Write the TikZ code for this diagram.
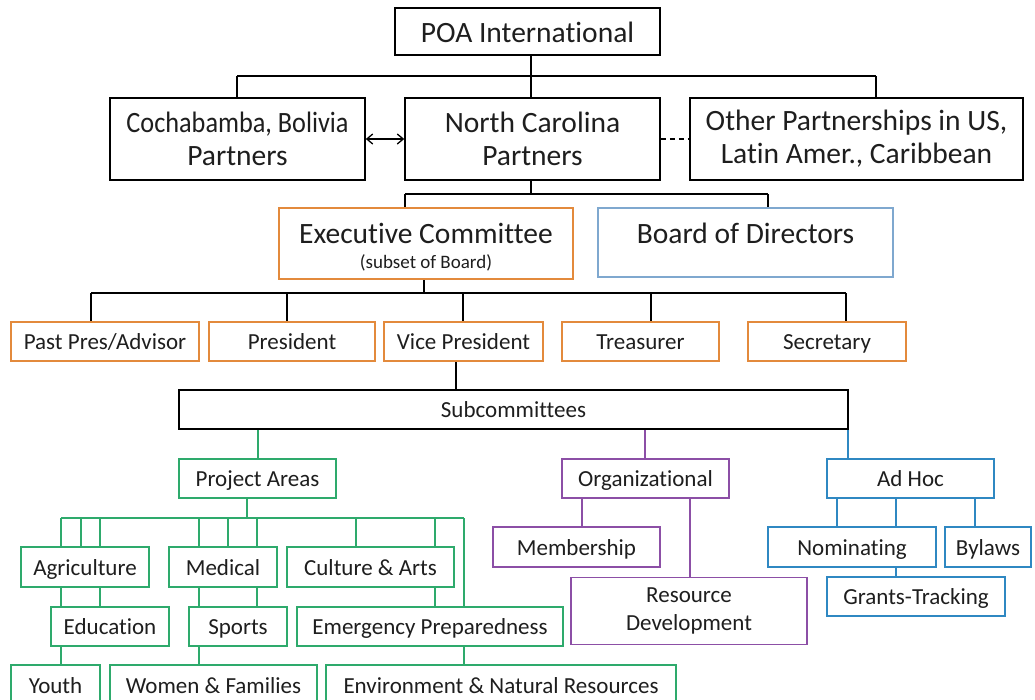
\documentclass[tikz,border=0pt]{standalone}
\usepackage{fontspec}
\setmainfont{Carlito}[Ligatures=NoCommon, RawFeature={-liga;-clig;-calt}]
\usetikzlibrary{arrows.meta,backgrounds}
\newcommand\myti{t\kern0pt i}
\definecolor{txt}{HTML}{1E1E1E}
\definecolor{orgc}{HTML}{E38A3C}
\definecolor{boardc}{HTML}{7FA8CF}
\definecolor{grc}{HTML}{2EAA6C}
\definecolor{puc}{HTML}{8C4FA6}
\definecolor{blc}{HTML}{2F88C2}
\tikzset{
  base/.style={draw=black, line width=1.5pt, fill=white, inner sep=0pt, align=center, text=txt},
  bx/.style={base, font=\fontsize{23}{28}\selectfont, text height=20pt, text depth=3.5pt},
  mbx/.style={base, font=\fontsize{23}{28}\selectfont},
  bigbx/.style={base, font=\fontsize{29.5}{33}\selectfont},
  lbl/.style={inner sep=0pt, text=txt, anchor=base},
  obx/.style={bx, draw=orgc},
  gbx/.style={bx, draw=grc},
  pbx/.style={bx, draw=puc},
  blbx/.style={bx, draw=blc},
  kl/.style={line width=1.3pt, draw=black},
  gl/.style={line width=1.3pt, draw=grc},
  pl/.style={line width=1.3pt, draw=puc},
  bl/.style={line width=1.3pt, draw=blc},
}
\begin{document}
\begin{tikzpicture}[x=1pt,y=-1pt]
\clip (0,0) rectangle (1035,699);
% top
\node[bigbx, minimum width=265pt, minimum height=47pt, text height=26pt, text depth=4pt] (poa) at (527.5,31.5) {POA Interna\myti onal};
\node[bigbx, minimum width=255pt, minimum height=82pt] (coch) at (237.5,139) {\scalebox{0.89}[1]{Cochabamba, Bolivia}\\Partners};
\node[bigbx, minimum width=255pt, minimum height=82pt] (nc) at (532.5,139) {North Carolina\\Partners};
\node[bigbx, minimum width=333pt, minimum height=82pt] (other) at (856.5,139) {Other Partnerships in US,\\La\myti n Amer., Caribbean};
% exec / board
\node[base, draw=orgc, minimum width=294pt, minimum height=71pt] (exec) at (426,243.5) {};
\node[lbl, font=\fontsize{29.5}{33}\selectfont] (execT) at (426,243.5) {Execu\myti ve Committee};
\node[lbl, font=\fontsize{19}{22}\selectfont] (execS) at (426,268) {(subset of Board)};
\node[base, draw=boardc, minimum width=295pt, minimum height=69pt] (board) at (745.5,242.5) {};
\node[lbl, font=\fontsize{29.5}{33}\selectfont] (boardT) at (745.5,243.5) {Board of Directors};
% officers
\node[obx, minimum width=188pt, minimum height=39pt] (past) at (105,341.5) {Past Pres/Advisor};
\node[obx, minimum width=166pt, minimum height=39pt] (pres) at (292,341.5) {President};
\node[obx, minimum width=159pt, minimum height=39pt] (vp) at (463.5,341.5) {Vice President};
\node[obx, minimum width=157pt, minimum height=39pt] (treas) at (640.5,341.5) {Treasurer};
\node[obx, minimum width=158pt, minimum height=39pt] (sec) at (827,341.5) {Secretary};
% subcommittees
\node[bx, minimum width=669pt, minimum height=39pt] (sub) at (513.5,409.5) {Subcommittees};
\node[gbx, minimum width=157pt, minimum height=39pt] (pa) at (257.5,478.5) {Project Areas};
\node[pbx, minimum width=167pt, minimum height=39pt] (org) at (645.5,478.5) {Organiza\myti onal};
\node[blbx, minimum width=167pt, minimum height=39pt] (adhoc) at (910.5,478.5) {Ad Hoc};
% project areas
\node[gbx, minimum width=128pt, minimum height=40pt] (agri) at (85,567) {Agriculture};
\node[gbx, minimum width=108pt, minimum height=40pt] (med) at (223,567) {Medical};
\node[gbx, minimum width=167pt, minimum height=40pt] (cult) at (370.5,567) {Culture \& Arts};
\node[gbx, minimum width=118pt, minimum height=39pt] (edu) at (110,626.5) {Educa\myti on};
\node[gbx, minimum width=98pt, minimum height=39pt] (sports) at (238,626.5) {Sports};
\node[gbx, minimum width=266pt, minimum height=39pt] (emerg) at (430,626.5) {Emergency Preparedness};
\node[gbx, minimum width=89pt, minimum height=40pt] (youth) at (55.5,685) {Youth};
\node[gbx, minimum width=207pt, minimum height=40pt] (wf) at (213.5,685) {Women \& Families};
\node[gbx, minimum width=350pt, minimum height=40pt] (env) at (501,685) {Environment \& Natural Resources};
% organizational
\node[pbx, minimum width=167pt, minimum height=40pt] (memb) at (576.5,547) {Membership};
\node[mbx, draw=puc, minimum width=236pt, minimum height=67pt] (resdev) at (689,611) {Resource\\Development};
% ad hoc
\node[blbx, minimum width=168pt, minimum height=40pt] (nom) at (852,547) {Nomina\myti ng};
\node[blbx, minimum width=86pt, minimum height=40pt] (bylaws) at (988,547) {Bylaws};
\node[blbx, minimum width=178pt, minimum height=39pt] (grants) at (916,596.5) {Grants-Tracking};

\begin{scope}[on background layer]
\fill[white] (0,0) rectangle (1035,699);
\coordinate (b1) at (0,76);
\coordinate (b2) at (0,194);
\coordinate (b3) at (0,293);
\coordinate (gb) at (0,518);
% top
\draw[kl] (poa.south -| 531,0) -- (b1 -| 531,0);
\draw[kl] (b1 -| 237,0) -- (b1 -| 876,0);
\draw[kl] (b1 -| 237,0) -- (coch.north -| 237,0);
\draw[kl] (b1 -| 531,0) -- (nc.north -| 531,0);
\draw[kl] (b1 -| 876,0) -- (other.north -| 876,0);
% nc to exec/board
\draw[kl] (nc.south -| 531,0) -- (b2 -| 531,0);
\draw[kl] (b2 -| 405,0) -- (b2 -| 768,0);
\draw[kl] (b2 -| 405,0) -- (exec.north -| 405,0);
\draw[kl] (b2 -| 768,0) -- (board.north -| 768,0);
% exec to officers
\draw[kl] (exec.south -| 424,0) -- (b3 -| 424,0);
\draw[kl] (b3 -| 91,0) -- (b3 -| 846,0);
\foreach \x/\n in {91/past,287/pres,463/vp,651/treas,846/sec}
  \draw[kl] (b3 -| \x,0) -- (\n.north -| \x,0);
\draw[kl] (vp.south -| 456,0) -- (sub.north -| 456,0);
% subcommittees
\draw[gl] (sub.south -| 258,0) -- (pa.north -| 258,0);
\draw[pl] (sub.south -| 645,0) -- (org.north -| 645,0);
\draw[bl] (sub.south -| 848,0) -- (adhoc.north -| 848,0);
% project areas
\draw[gl] (pa.south -| 247,0) -- (gb -| 247,0);
\draw[gl] (gb -| 61,0) -- (gb -| 464,0);
\foreach \x/\n in {61/youth,81/agri,100/edu,199/wf,228/med,257/sports,356/cult,435/emerg,464/env}
  \draw[gl] (gb -| \x,0) -- (\n.north -| \x,0);
% organizational
\draw[pl] (org.south -| 582,0) -- (memb.north -| 582,0);
\draw[pl] (org.south -| 690,0) -- (resdev.north -| 690,0);
% ad hoc
\draw[bl] (adhoc.south -| 837,0) -- (nom.north -| 837,0);
\draw[bl] (adhoc.south -| 896,0) -- (grants.north -| 896,0);
\draw[bl] (adhoc.south -| 975,0) -- (bylaws.north -| 975,0);
\end{scope}
% partner links
\draw[line width=1.3pt, {Straight Barb[length=6pt,width=10pt]}-{Straight Barb[length=6pt,width=10pt]}] (coch.east) -- (nc.west);
\draw[line width=1.3pt, dash pattern=on 5pt off 4pt] (nc.east) -- (other.west);
\end{tikzpicture}
\end{document}
